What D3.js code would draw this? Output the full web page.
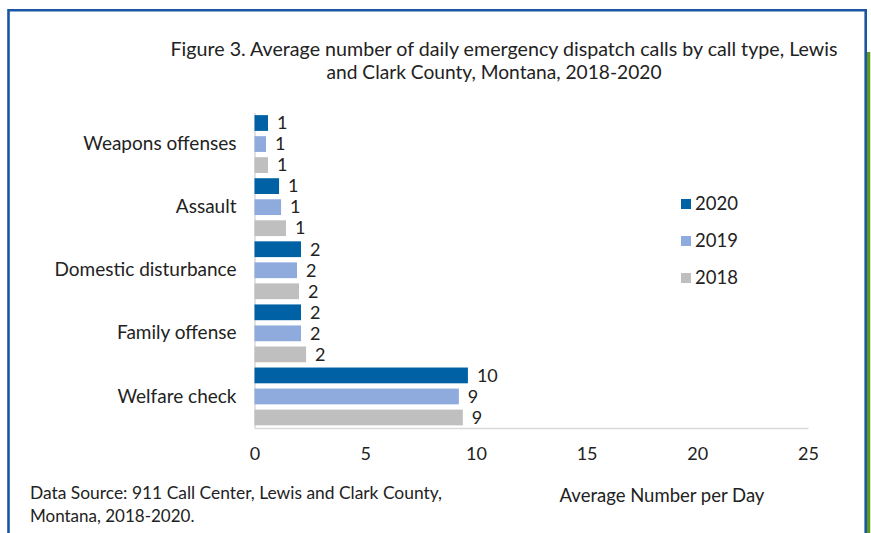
<!DOCTYPE html>
<html><head><meta charset="utf-8">
<script src="https://cdn.jsdelivr.net/npm/d3@7"></script>
<style>body{margin:0;background:#fff;}svg{display:block;}</style>
</head><body>
<svg id="c" width="871" height="533"></svg>
<script>
const categories = ["Weapons offenses","Assault","Domestic disturbance","Family offense","Welfare check"];
const years = ["2020","2019","2018"];
const values2020 = [0.61, 1.11, 2.10, 2.10, 9.64];
const values2019 = [0.52, 1.20, 1.92, 2.10, 9.23];
const values2018 = [0.61, 1.42, 2.01, 2.33, 9.41];
const xTicks = [0,5,10,15,20,25];
const colors = {"2020":"#0062a4","2019":"#8faadc","2018":"#bfbfbf"};
const seriesVals = {"2020":values2020,"2019":values2019,"2018":values2018};

const svg = d3.select("#c");
const font = "Lato, 'Open Sans', sans-serif";

// frame
svg.append("line").attr("x1",868.5).attr("x2",868.5).attr("y1",52).attr("y2",533).attr("stroke","#5b9a1a").attr("stroke-width",3.5);
svg.append("path").attr("d","M8.5,533 V10.3 H865.7 V533").attr("fill","none").attr("stroke","#1c56a3").attr("stroke-width",2.6);

// title
svg.append("text").attr("x",504).attr("y",56).attr("text-anchor","middle").attr("font-family",font).attr("font-size",19).attr("fill","#222")
  .attr("textLength",667).attr("lengthAdjust","spacingAndGlyphs")
  .text("Figure 3. Average number of daily emergency dispatch calls by call type, Lewis");
svg.append("text").attr("x",494).attr("y",79).attr("text-anchor","middle").attr("font-family",font).attr("font-size",19).attr("fill","#222")
  .attr("textLength",335).attr("lengthAdjust","spacingAndGlyphs")
  .text("and Clark County, Montana, 2018-2020");

const x = d3.scaleLinear().domain([0,25]).range([254.5,808]);
const y0 = d3.scaleBand().domain(categories).range([112.5,428]).paddingInner(0).paddingOuter(0);
const y1 = d3.scaleBand().domain(years).range([0,y0.bandwidth()]).paddingInner(0.25).paddingOuter(0.125);

// axes
const xAxis = d3.axisBottom(x).tickValues(xTicks).tickSize(0).tickPadding(19);
const gx = svg.append("g").attr("transform","translate(0,428)").call(xAxis);
gx.select(".domain").attr("stroke","#d9d9d9").attr("stroke-width",1.5);
gx.selectAll("text").attr("font-family",font).attr("font-size",18).attr("fill","#222");

const yAxis = d3.axisLeft(y0).tickSize(0).tickPadding(18);
const gy = svg.append("g").attr("transform","translate(254.5,0)").call(yAxis);
gy.select(".domain").attr("stroke","#d9d9d9").attr("stroke-width",1.5);
gy.selectAll("text").attr("font-family",font).attr("font-size",19).attr("fill","#222");

// bars
const rows = [];
categories.forEach((c,i)=>years.forEach(yr=>rows.push({cat:c,year:yr,v:seriesVals[yr][i]})));
svg.append("g").selectAll("rect").data(rows).join("rect")
  .attr("x",x(0)).attr("y",d=>y0(d.cat)+y1(d.year))
  .attr("width",d=>x(d.v)-x(0)).attr("height",y1.bandwidth())
  .attr("fill",d=>colors[d.year]);
svg.append("g").selectAll("text").data(rows).join("text")
  .attr("x",d=>x(d.v)+9).attr("y",d=>y0(d.cat)+y1(d.year)+y1.bandwidth()/2)
  .attr("dy","0.35em").attr("font-family",font).attr("font-size",18).attr("fill","#222")
  .text(d=>Math.round(d.v));

// legend
const lg = svg.append("g").selectAll("g").data(years).join("g")
  .attr("transform",(d,i)=>`translate(681,${204+i*37})`);
lg.append("rect").attr("x",0).attr("y",-5).attr("width",10).attr("height",10).attr("fill",d=>colors[d]);
lg.append("text").attr("x",14).attr("y",0).attr("dy","0.35em").attr("font-family",font).attr("font-size",18.5).attr("fill","#222").text(d=>d);

// footer
svg.append("text").attr("x",30).attr("y",499).attr("font-family",font).attr("font-size",17).attr("fill","#222")
  .attr("textLength",412).attr("lengthAdjust","spacingAndGlyphs")
  .text("Data Source: 911 Call Center, Lewis and Clark County,");
svg.append("text").attr("x",30).attr("y",522).attr("font-family",font).attr("font-size",17).attr("fill","#222")
  .text("Montana, 2018-2020.");
svg.append("text").attr("x",662).attr("y",502).attr("text-anchor","middle").attr("font-family",font).attr("font-size",18.5).attr("fill","#222")
  .text("Average Number per Day");
</script>
</body></html>
